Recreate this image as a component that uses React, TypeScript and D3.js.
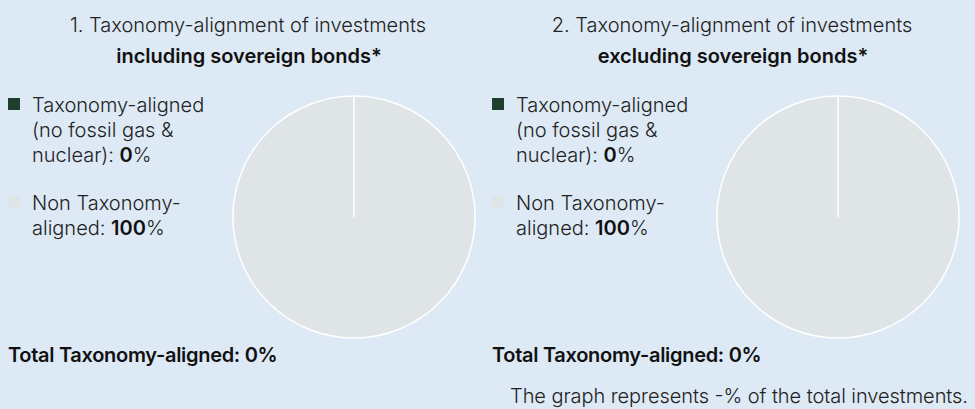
import { useEffect, useRef } from "react";
import * as d3 from "d3";

const categories = ["Taxonomy-aligned (no fossil gas & nuclear)", "Non Taxonomy-aligned"];
const includingValues = [0, 100];
const excludingValues = [0, 100];
const panelTitles = ["1. Taxonomy-alignment of investments", "2. Taxonomy-alignment of investments"];
const panelSubtitles = ["including sovereign bonds*", "excluding sovereign bonds*"];
const totalLabels = ["Total Taxonomy-aligned: 0%", "Total Taxonomy-aligned: 0%"];
const legendLines = [
  ["Taxonomy-aligned", "(no fossil gas &", "nuclear): "],
  ["Non Taxonomy-", "aligned: "],
];
const footnote = "The graph represents -% of the total investments.";

const colors = ["#1e3f30", "#dfe4e6"];

function App() {
  const svgRef = useRef<SVGSVGElement>(null);

  useEffect(() => {
    if (!svgRef.current) return;
    const width = 975;
    const height = 409;
    const svg = d3.select(svgRef.current);
    svg.selectAll("*").remove();
    svg.attr("width", width).attr("height", height);

    svg.append("rect").attr("width", width).attr("height", height).attr("fill", "#dde9f5");

    const font = "Inter, 'Noto Sans', sans-serif";
    const fs = 20;
    const panelWidth = 484;
    const radius = 121;

    const pie = d3.pie<number>().sort(null).value((d) => d);
    const arc = d3.arc<d3.PieArcDatum<number>>().innerRadius(0).outerRadius(radius);
    const color = d3.scaleOrdinal<number, string>().domain([0, 1]).range(colors);

    [includingValues, excludingValues].forEach((values, p) => {
      const g = svg.append("g").attr("transform", `translate(${p * panelWidth},0)`);

      g.append("text")
        .attr("x", 248)
        .attr("y", 32)
        .attr("text-anchor", "middle")
        .attr("font-family", font)
        .attr("font-size", fs)
        .attr("font-weight", 300)
        .attr("fill", "#222")
        .text(panelTitles[p]);

      g.append("text")
        .attr("x", 249)
        .attr("y", 63)
        .attr("text-anchor", "middle")
        .attr("font-family", font)
        .attr("font-size", fs)
        .attr("font-weight", 600)
        .attr("fill", "#111")
        .text(panelSubtitles[p]);

      // legend
      const legendTops = [98, 196];
      categories.forEach((_, i) => {
        const item = g.append("g").attr("transform", `translate(8,${legendTops[i]})`);
        item.append("rect").attr("width", 12).attr("height", 12).attr("fill", colors[i]);
        const lines = legendLines[i];
        lines.forEach((line, j) => {
          const t = item
            .append("text")
            .attr("x", 24)
            .attr("y", 14 + j * 25)
            .attr("font-family", font)
            .attr("font-size", fs)
            .attr("font-weight", 300)
            .attr("fill", "#222")
            .text(line);
          if (j === lines.length - 1) {
            t.append("tspan").attr("font-weight", 600).attr("fill", "#111").text(String(values[i]));
            t.append("tspan").text("%");
          }
        });
      });

      // pie: draw the big slice first so the empty slice's edge stays visible
      const pg = g.append("g").attr("transform", `translate(354,217)`);
      pg.selectAll("path")
        .data(pie(values).slice().reverse())
        .enter()
        .append("path")
        .attr("d", arc)
        .attr("fill", (d) => color(d.index))
        .attr("stroke", "#ffffff")
        .attr("stroke-width", 1.5);

      g.append("text")
        .attr("x", 8)
        .attr("y", 362)
        .attr("font-family", font)
        .attr("font-size", fs)
        .attr("font-weight", 600)
        .attr("letter-spacing", -0.3)
        .attr("fill", "#111")
        .text(totalLabels[p]);
    });

    svg.append("text")
      .attr("x", 510)
      .attr("y", 403)
      .attr("font-family", font)
      .attr("font-size", fs)
      .attr("font-weight", 300)
      .attr("fill", "#222")
      .attr("textLength", 458)
      .attr("lengthAdjust", "spacing")
      .text(footnote);
  }, []);

  return (
    <div style={{ position: "absolute", left: 0, top: 0 }}>
      <svg ref={svgRef}></svg>
    </div>
  );
}

export default App;
